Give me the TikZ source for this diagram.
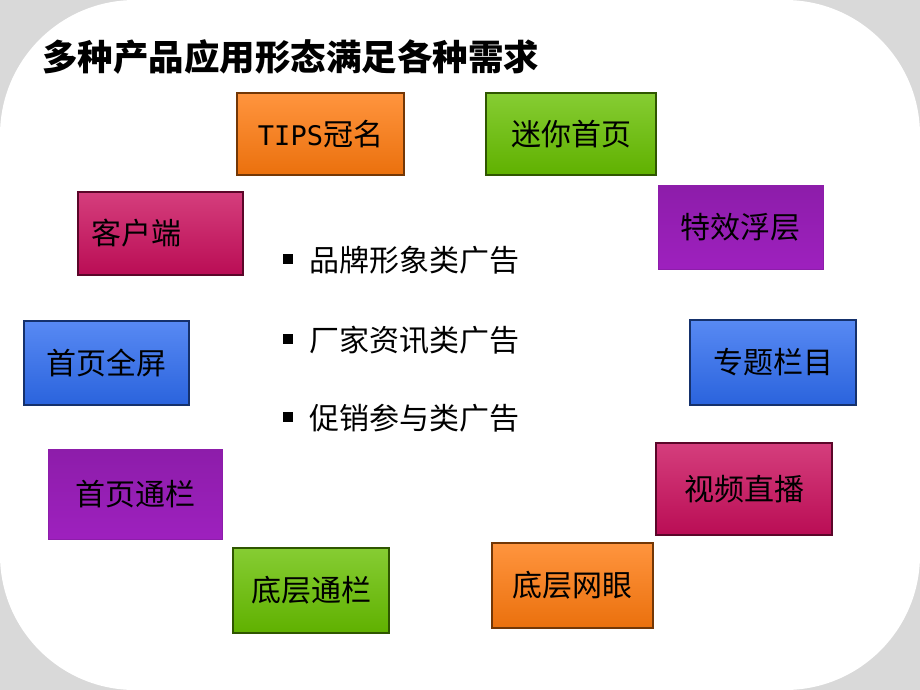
\documentclass[tikz,border=0pt]{standalone}
\usepackage{fontspec}
\setmainfont{Noto Sans CJK SC}
\newfontfamily\tipsfont{DejaVu Sans Mono}
\usetikzlibrary{positioning}
\definecolor{myGray}{RGB}{217,217,217}
\definecolor{myOrange}{RGB}{255,122,14}
\definecolor{myGreen}{RGB}{104,192,0}
\definecolor{myPurple}{RGB}{166,34,200}
\definecolor{myCrimson}{RGB}{202,14,92}
\definecolor{myBlue}{RGB}{46,108,240}

\begin{document}
\begin{tikzpicture}[x=1pt,y=-1pt,
        every node/.style={
            font=\fontsize{30}{33}\selectfont,
            inner sep=0pt,
        },
        box/.style={
            draw=#1!45!black, line width=2pt,
            top color=#1!80!white, middle color=#1, bottom color=#1!92!black,
        },
        flatbox/.style={
            draw=#1!85!black, line width=0.6pt,
            top color=#1!85!black, middle color=#1, bottom color=#1!95!black,
        },
        item/.style={anchor=west},
    ]
    % background with rounded white sheet
    \useasboundingbox (0,0) rectangle (920,690);
    \fill[myGray] (0,0) rectangle (920,690);
    \fill[white, rounded corners=135pt] (0,0) rectangle (920,690);

    % title
    \node[anchor=west, font=\fontsize{35.5}{38}\selectfont\bfseries] (title) at (42,57)
        {多种产品应用形态满足各种需求};

    % product boxes
    \node[box=myOrange, minimum width=167pt, minimum height=82pt] (tips) at (320.5,134)
        {{\tipsfont\fontsize{27}{30}\selectfont TIPS}冠名};
    \node[box=myGreen, minimum width=170pt, minimum height=82pt] (mini) at (571,134) {迷你首页};
    \node[flatbox=myPurple, minimum width=165pt, minimum height=84pt] (float) at (740.5,227) {特效浮层};
    \node[box=myCrimson, minimum width=165pt, minimum height=83pt,
          text width=151pt, align=left] (client) at (160.5,233.5) {\hspace*{6pt}客户端};
    \node[box=myBlue, minimum width=165pt, minimum height=84pt] (full) at (106.5,363) {首页全屏};
    \node[box=myBlue, minimum width=166pt, minimum height=85pt] (topic) at (773,362.5) {专题栏目};
    \node[flatbox=myPurple, minimum width=174pt, minimum height=90pt] (banner) at (135,494) {首页通栏};
    \node[box=myCrimson, minimum width=176pt, minimum height=92pt] (video) at (744,489) {视频直播};
    \node[box=myGreen, minimum width=156pt, minimum height=85pt] (bottom) at (311,590.5) {底层通栏};
    \node[box=myOrange, minimum width=161pt, minimum height=85pt] (mesh) at (572.5,585.5) {底层网眼};

    % ad types in the middle
    \node[item] (brand) at (283,260) {\raisebox{7pt}{\rule{10pt}{10pt}}\hspace{16pt}品牌形象类广告};
    \node[item] (maker) at (283,340) {\raisebox{7pt}{\rule{10pt}{10pt}}\hspace{16pt}厂家资讯类广告};
    \node[item] (promo) at (283,418) {\raisebox{7pt}{\rule{10pt}{10pt}}\hspace{16pt}促销参与类广告};
\end{tikzpicture}
\end{document}
